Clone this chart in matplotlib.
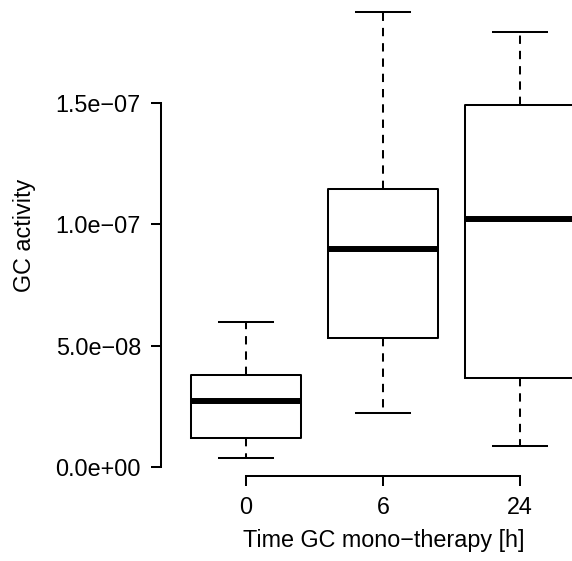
import matplotlib
matplotlib.use("Agg")
import matplotlib.pyplot as plt

plt.rcParams['font.family'] = ['Liberation Sans', 'DejaVu Sans']
plt.rcParams['lines.scale_dashes'] = False

categories = ["0", "6", "24"]
whislo = [3.6e-9, 2.21e-8, 8.8e-9]
q1 = [1.18e-8, 5.31e-8, 3.65e-8]
med = [2.73e-8, 8.98e-8, 1.021e-7]
q3 = [3.78e-8, 1.145e-7, 1.491e-7]
whishi = [5.96e-8, 1.873e-7, 1.792e-7]
yticks = [0.0, 5e-8, 1e-7, 1.5e-7]
yticklabels = ["0.0e+00", "5.0e\u221208", "1.0e\u221207", "1.5e\u221207"]

W, H = 572, 561
fig = plt.figure(figsize=(W / 100, H / 100), dpi=100)
# axes region in pixels: left 161, right 572, top 0, bottom 476
ax = fig.add_axes([161 / W, 1 - 476 / H, (W - 161) / W, 476 / H])

stats = []
for i, c in enumerate(categories):
    stats.append(dict(label=c, whislo=whislo[i], q1=q1[i], med=med[i],
                      q3=q3[i], whishi=whishi[i], fliers=[]))

pos = [1, 2, 3]
lw = 1.45
ax.bxp(stats, positions=pos, widths=0.8, showfliers=False,
       boxprops=dict(color='black', linewidth=lw),
       medianprops=dict(color='black', linewidth=4.3, solid_capstyle='butt'),
       whiskerprops=dict(color='black', linewidth=lw, linestyle=(0, (6.0, 5.0))),
       capprops=dict(color='black', linewidth=lw))

px_per_x = 137.0
ax.set_xlim(1 - (246 - 161) / px_per_x, 1 + (572 - 246) / px_per_x)
px_per_y = 121.4 / 5e-8
ax.set_ylim(-(476 - 467) / px_per_y, 467 / px_per_y)

for s in ['top', 'right']:
    ax.spines[s].set_visible(False)
ax.spines['left'].set_bounds(0, 1.5e-7)
ax.spines['bottom'].set_bounds(1, 3)
for s in ['left', 'bottom']:
    ax.spines[s].set_linewidth(lw)

fs = 16.8
ax.set_yticks(yticks)
ax.set_yticklabels(yticklabels)
ax.set_xticks(pos)
ax.set_xticklabels(categories)
ax.tick_params(axis='both', length=7, width=lw, labelsize=fs, colors='black')
ax.tick_params(axis='y', pad=7.5)
ax.tick_params(axis='x', pad=7.5)

fig.text(384 / W, 1 - 540 / H, "Time GC mono\u2212therapy [h]", ha='center', va='center', fontsize=fs)
fig.text(24 / W, 1 - 235 / H, "GC activity", ha='center', va='center', rotation=90, fontsize=fs)

fig.savefig("out.png", dpi=100)
